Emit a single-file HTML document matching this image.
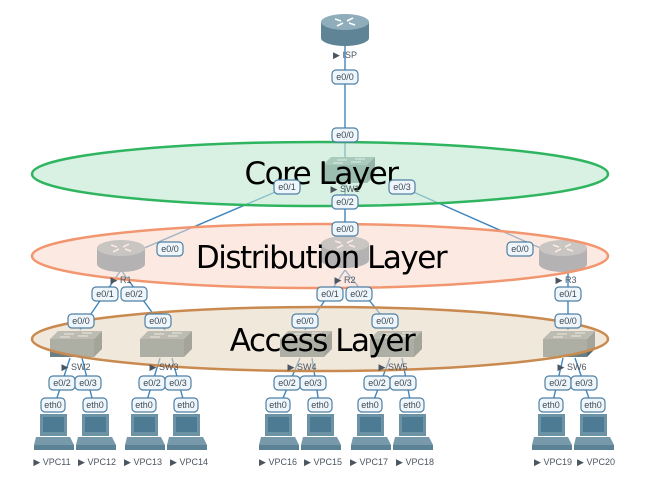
<!DOCTYPE html>
<html><head><meta charset="utf-8"><style>
html,body{margin:0;padding:0;background:#fff;width:646px;height:495px;overflow:hidden}
svg{display:block}
.l{font-family:"Liberation Sans",sans-serif;font-size:9px;fill:#3d4a55;text-anchor:middle}
.n{font-family:"Liberation Sans",sans-serif;font-size:9px;fill:#4a5560;text-anchor:middle}
.big{font-family:"DejaVu Sans","Liberation Sans",sans-serif;font-size:31px;fill:#000;text-anchor:middle;letter-spacing:-1.5px}
</style></head><body>
<svg width="646" height="495" viewBox="0 0 646 495" xmlns="http://www.w3.org/2000/svg">
<defs>
<g id="rt">
 <rect x="-24" y="-8" width="48" height="16" fill="#5f8496"/>
 <ellipse cx="0" cy="8" rx="24" ry="8" fill="#5f8496"/>
 <ellipse cx="0" cy="-8" rx="24" ry="8" fill="#8fadbb"/>
 <path d="M-10,-11 l6,2 M10,-5 l-6,-2 M-8,-4 l6,-3 M8,-12 l-6,3" stroke="#fff" stroke-width="1.6"/>
</g>
<g id="sw">
 <path d="M-22,-5 L-14,-13 L30,-13 L22,-5 Z" fill="#8a9ea2"/>
 <rect x="-22" y="-5" width="44" height="18" fill="#687f84"/>
 <path d="M22,-5 L30,-13 L30,5 L22,13 Z" fill="#54696e"/>
 <path d="M-8,-10 h10 M6,-8 h10 M-12,-7 h10 M10,-11 h10" stroke="#fff" stroke-width="1"/>
</g>
<g id="pc">
 <rect x="-13" y="0" width="27" height="22" fill="#6c92a6"/>
 <rect x="-10" y="3" width="21" height="15" fill="#4d7b93"/>
 <path d="M-17,23 L17,23 L21,31 L-19,31 Z" fill="#7899aa"/>
 <rect x="-19" y="31" width="40" height="5" fill="#5c8296"/>
</g>
</defs>
<g stroke="#3f86be" stroke-width="1.4" fill="none">
 <line x1="345" y1="40" x2="345" y2="250"/>
 <line x1="287" y1="187" x2="121" y2="258"/>
 <line x1="402" y1="187" x2="563" y2="258"/>
 <line x1="121" y1="270" x2="80" y2="330"/>
 <line x1="121" y1="270" x2="165" y2="330"/>
 <line x1="345" y1="270" x2="305" y2="330"/>
 <line x1="345" y1="270" x2="393" y2="330"/>
 <line x1="568" y1="270" x2="568" y2="330"/>
 <path d="M70,358 L53,410 M82,358 L95,410 M160,358 L144,410 M172,358 L186,410 M300,358 L278,410 M312,358 L320,410 M390,358 L370,410 M402,358 L412,410 M563,358 L551,410 M575,358 L593,410"/>
</g>
<use href="#rt" x="345" y="30"/>
<use href="#sw" x="345" y="170"/>
<use href="#rt" x="121" y="256"/>
<use href="#rt" x="345" y="252"/>
<use href="#rt" x="563" y="256"/>
<use href="#sw" x="72" y="344"/>
<use href="#sw" x="162" y="344"/>
<use href="#sw" x="302" y="344"/>
<use href="#sw" x="392" y="344"/>
<use href="#sw" x="565" y="344"/>
<g>
<use href="#pc" x="53" y="414"/><use href="#pc" x="95" y="414"/><use href="#pc" x="144" y="414"/><use href="#pc" x="186" y="414"/>
<use href="#pc" x="278" y="414"/><use href="#pc" x="320" y="414"/><use href="#pc" x="370" y="414"/><use href="#pc" x="412" y="414"/>
<use href="#pc" x="551" y="414"/><use href="#pc" x="593" y="414"/>
</g>
<ellipse cx="320" cy="174" rx="288" ry="32" fill="#bfe8cf" fill-opacity="0.6" stroke="#2fb560" stroke-width="2.5"/>
<ellipse cx="320" cy="256" rx="288" ry="32" fill="#fad8cb" fill-opacity="0.55" stroke="#f29670" stroke-width="2.5"/>
<ellipse cx="320" cy="339" rx="288" ry="32" fill="#e6d5c0" fill-opacity="0.55" stroke="#c98a4f" stroke-width="2.5"/>
<text class="big" x="321" y="184">Core Layer</text>
<text class="big" x="321" y="268">Distribution Layer</text>
<text class="big" x="322" y="351">Access Layer</text>
<g fill="#eef6fb" stroke="#4f7fa3" stroke-width="1.2">
 <rect x="332" y="70" width="26" height="14" rx="4"/>
 <rect x="332" y="128" width="26" height="14" rx="4"/>
 <rect x="274" y="180" width="26" height="14" rx="4"/>
 <rect x="389" y="180" width="26" height="14" rx="4"/>
 <rect x="332" y="195" width="26" height="14" rx="4"/>
 <rect x="332" y="222" width="26" height="14" rx="4"/>
 <rect x="157" y="242" width="26" height="14" rx="4"/>
 <rect x="507" y="242" width="26" height="14" rx="4"/>
 <rect x="92" y="287" width="26" height="14" rx="4"/>
 <rect x="121" y="287" width="26" height="14" rx="4"/>
 <rect x="317" y="287" width="26" height="14" rx="4"/>
 <rect x="346" y="287" width="26" height="14" rx="4"/>
 <rect x="555" y="287" width="26" height="14" rx="4"/>
 <rect x="68" y="314" width="26" height="14" rx="4"/>
 <rect x="145" y="314" width="26" height="14" rx="4"/>
 <rect x="292" y="314" width="26" height="14" rx="4"/>
 <rect x="372" y="314" width="26" height="14" rx="4"/>
 <rect x="555" y="314" width="26" height="14" rx="4"/>
 <rect x="49" y="376" width="26" height="14" rx="4"/><rect x="75" y="376" width="26" height="14" rx="4"/>
 <rect x="139" y="376" width="26" height="14" rx="4"/><rect x="165" y="376" width="26" height="14" rx="4"/>
 <rect x="274" y="376" width="26" height="14" rx="4"/><rect x="300" y="376" width="26" height="14" rx="4"/>
 <rect x="364" y="376" width="26" height="14" rx="4"/><rect x="390" y="376" width="26" height="14" rx="4"/>
 <rect x="545" y="376" width="26" height="14" rx="4"/><rect x="571" y="376" width="26" height="14" rx="4"/>
 <rect x="41" y="398" width="24" height="14" rx="4"/><rect x="83" y="398" width="24" height="14" rx="4"/>
 <rect x="132" y="398" width="24" height="14" rx="4"/><rect x="174" y="398" width="24" height="14" rx="4"/>
 <rect x="266" y="398" width="24" height="14" rx="4"/><rect x="308" y="398" width="24" height="14" rx="4"/>
 <rect x="358" y="398" width="24" height="14" rx="4"/><rect x="400" y="398" width="24" height="14" rx="4"/>
 <rect x="539" y="398" width="24" height="14" rx="4"/><rect x="581" y="398" width="24" height="14" rx="4"/>
</g>
<g class="l">
 <text x="345" y="80">e0/0</text><text x="345" y="138">e0/0</text>
 <text x="287" y="190">e0/1</text><text x="402" y="190">e0/3</text><text x="345" y="205">e0/2</text>
 <text x="345" y="232">e0/0</text><text x="170" y="252">e0/0</text><text x="520" y="252">e0/0</text>
 <text x="105" y="297">e0/1</text><text x="134" y="297">e0/2</text>
 <text x="330" y="297">e0/1</text><text x="359" y="297">e0/2</text><text x="568" y="297">e0/1</text>
 <text x="81" y="324">e0/0</text><text x="158" y="324">e0/0</text><text x="305" y="324">e0/0</text><text x="385" y="324">e0/0</text><text x="568" y="324">e0/0</text>
 <text x="62" y="386">e0/2</text><text x="88" y="386">e0/3</text><text x="152" y="386">e0/2</text><text x="178" y="386">e0/3</text>
 <text x="287" y="386">e0/2</text><text x="313" y="386">e0/3</text><text x="377" y="386">e0/2</text><text x="403" y="386">e0/3</text>
 <text x="558" y="386">e0/2</text><text x="584" y="386">e0/3</text>
 <text x="53" y="408">eth0</text><text x="95" y="408">eth0</text><text x="144" y="408">eth0</text><text x="186" y="408">eth0</text>
 <text x="278" y="408">eth0</text><text x="320" y="408">eth0</text><text x="370" y="408">eth0</text><text x="412" y="408">eth0</text>
 <text x="551" y="408">eth0</text><text x="593" y="408">eth0</text>
</g>
<g class="n">
 <text x="345" y="58">▶ ISP</text><text x="345" y="192">▶ SW1</text>
 <text x="121" y="283">▶ R1</text><text x="345" y="283">▶ R2</text><text x="566" y="283">▶ R3</text>
 <text x="76" y="370">▶ SW2</text><text x="164" y="370">▶ SW3</text><text x="302" y="370">▶ SW4</text><text x="393" y="370">▶ SW5</text><text x="572" y="370">▶ SW6</text>
 <text x="52" y="465">▶ VPC11</text><text x="97" y="465">▶ VPC12</text><text x="143" y="465">▶ VPC13</text><text x="189" y="465">▶ VPC14</text>
 <text x="278" y="465">▶ VPC16</text><text x="323" y="465">▶ VPC15</text><text x="369" y="465">▶ VPC17</text><text x="415" y="465">▶ VPC18</text>
 <text x="553" y="465">▶ VPC19</text><text x="596" y="465">▶ VPC20</text>
</g>
</svg>
</body></html>
